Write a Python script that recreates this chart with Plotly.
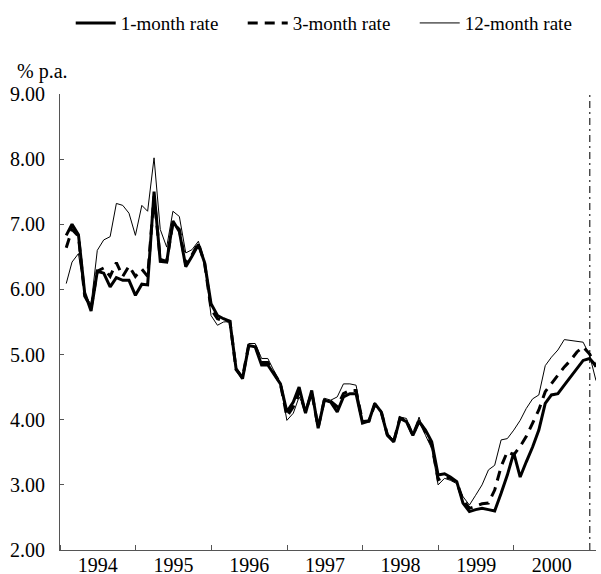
import pandas as pd
import plotly.graph_objects as go

months = pd.date_range("1994-01-31", periods=85, freq="ME")

one_month = [
    6.83, 7.00, 6.84, 5.95, 5.67, 6.28, 6.25, 6.04, 6.18, 6.14, 6.14, 5.91,
    6.08, 6.07, 7.50, 6.43, 6.42, 7.05, 6.89, 6.35, 6.51, 6.69, 6.41, 5.78,
    5.60, 5.55, 5.51, 4.78, 4.63, 5.14, 5.12, 4.84, 4.84, 4.70, 4.55, 4.12,
    4.27, 4.50, 4.10, 4.45, 3.87, 4.30, 4.27, 4.12, 4.35, 4.40, 4.40, 3.95,
    3.98, 4.25, 4.12, 3.76, 3.66, 4.02, 3.97, 3.76, 3.97, 3.84, 3.66, 3.15,
    3.17, 3.12, 3.05, 2.72, 2.59, 2.62, 2.64, 2.62, 2.60, 2.87, 3.15, 3.49,
    3.12, 3.35, 3.58, 3.84, 4.25, 4.38, 4.40, 4.53, 4.66, 4.78, 4.91, 4.94,
    4.83,
]
three_month = [
    6.64, 6.92, 6.82, 5.90, 5.72, 6.28, 6.33, 6.20, 6.41, 6.20, 6.36, 6.20,
    6.31, 6.20, 7.43, 6.46, 6.43, 7.02, 6.92, 6.38, 6.53, 6.71, 6.40, 5.70,
    5.55, 5.52, 5.51, 4.77, 4.65, 5.15, 5.14, 4.88, 4.88, 4.71, 4.55, 4.05,
    4.20, 4.42, 4.12, 4.42, 3.88, 4.31, 4.28, 4.20, 4.40, 4.45, 4.45, 3.97,
    3.98, 4.23, 4.13, 3.77, 3.67, 4.03, 3.99, 3.76, 4.00, 3.80, 3.62, 3.08,
    3.13, 3.10, 3.04, 2.77, 2.64, 2.67, 2.71, 2.72, 2.92, 3.28, 3.51, 3.46,
    3.59, 3.74, 3.94, 4.15, 4.43, 4.55, 4.68, 4.81, 4.91, 5.04, 5.12, 5.01,
    4.81,
]
twelve_month = [
    6.09, 6.42, 6.55, 5.92, 5.77, 6.60, 6.76, 6.81, 7.32, 7.29, 7.17, 6.83,
    7.29, 7.20, 8.02, 6.92, 6.65, 7.20, 7.12, 6.56, 6.61, 6.74, 6.41, 5.60,
    5.45, 5.50, 5.51, 4.76, 4.68, 5.17, 5.17, 4.94, 4.94, 4.73, 4.55, 3.99,
    4.10, 4.35, 4.15, 4.40, 3.90, 4.33, 4.30, 4.35, 4.55, 4.55, 4.53, 3.99,
    3.99, 4.21, 4.15, 3.79, 3.69, 4.04, 4.02, 3.76, 4.04, 3.76, 3.56, 3.00,
    3.10, 3.07, 3.02, 2.82, 2.69, 2.84, 3.00, 3.23, 3.30, 3.69, 3.71, 3.84,
    3.99, 4.17, 4.32, 4.38, 4.83, 4.96, 5.07, 5.23, 5.22, 5.20, 5.19, 4.99,
    4.60,
]

# break marker at the end of 2000, spanning the whole y range
break_date = "2001-01-01"
y_range = [2, 9]

FONT = "Liberation Serif"
AXIS_GREY = "#555555"

fig = go.Figure()
fig.add_trace(go.Scatter(x=[break_date, break_date], y=y_range, mode="lines",
                         showlegend=False, hoverinfo="skip",
                         line=dict(color="#222222", width=1.2, dash="7px,4px,2px,4px")))
fig.add_trace(go.Scatter(x=months, y=one_month, mode="lines", name="1-month rate",
                         line=dict(color="black", width=3)))
fig.add_trace(go.Scatter(x=months, y=three_month, mode="lines", name="3-month rate",
                         line=dict(color="black", width=3, dash="10px,7px")))
fig.add_trace(go.Scatter(x=months, y=twelve_month, mode="lines", name="12-month rate",
                         line=dict(color="black", width=1)))

fig.add_annotation(text="% p.a.", xref="paper", yref="paper", x=-0.084, y=1.05,
                   xanchor="left", yanchor="middle", showarrow=False,
                   font=dict(family=FONT, size=20, color="black"))

fig.update_layout(
    width=601, height=574,
    margin=dict(l=60, r=5, t=93, b=24),
    paper_bgcolor="white", plot_bgcolor="white",
    font=dict(family=FONT, size=20, color="black"),
    showlegend=True,
    legend=dict(orientation="h", x=0.02, y=1.153, xanchor="left", yanchor="middle",
                xref="paper", yref="paper",
                font=dict(family=FONT, size=19), itemwidth=40,
                entrywidth=117, entrywidthmode="pixels",
                bgcolor="rgba(0,0,0,0)"),
    xaxis=dict(
        type="date", range=["1994-01-01", "2001-01-31"],
        tick0="1994-01-01", dtick="M12", tickformat="%Y", ticklabelmode="period",
        ticks="inside", ticklen=5, tickcolor=AXIS_GREY,
        showline=True, linecolor=AXIS_GREY, linewidth=1,
        showgrid=False, zeroline=False, automargin=False,
        ticklabelstandoff=-3,
        tickfont=dict(family=FONT, size=20),
    ),
    yaxis=dict(
        range=y_range, dtick=1, tickformat=".2f",
        ticks="inside", ticklen=4, tickcolor=AXIS_GREY,
        showline=True, linecolor=AXIS_GREY, linewidth=1,
        showgrid=False, zeroline=False, automargin=False,
        ticklabelstandoff=10,
        tickfont=dict(family=FONT, size=20),
    ),
)

# drop the default page margin so the 601x574 figure fills the window exactly
fig.write_html("out.html", config={"displayModeBar": False},
               post_script="document.body.style.margin='0';document.body.style.overflow='hidden';")
